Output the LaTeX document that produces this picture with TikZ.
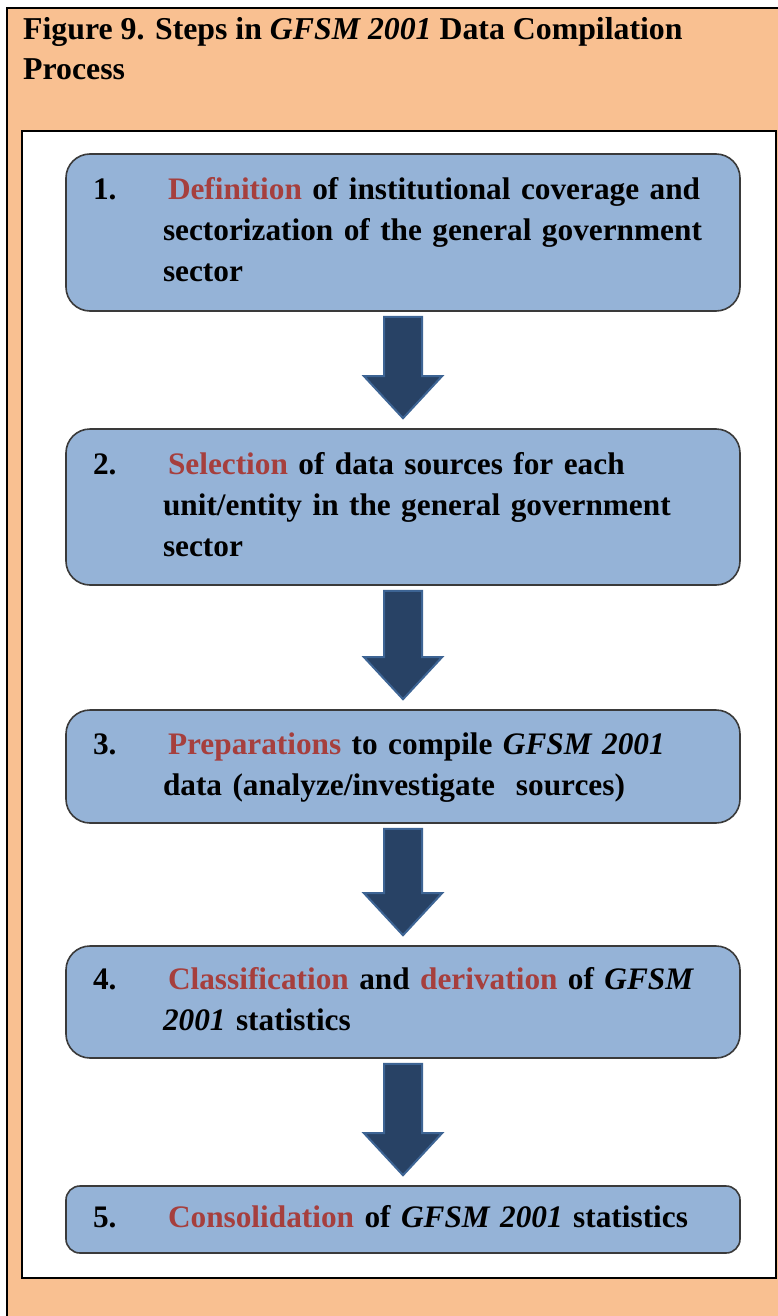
\documentclass[tikz,border=0pt]{standalone}
\usepackage{fontspec}
\setmainfont{Liberation Serif}
\usetikzlibrary{calc}
\definecolor{framefill}{HTML}{F9C091}
\definecolor{boxfill}{HTML}{95B3D7}
\definecolor{boxline}{HTML}{3A3A3A}
\definecolor{arrowfill}{HTML}{284265}
\definecolor{arrowline}{HTML}{3D6494}
\definecolor{keyred}{HTML}{A63F3D}
\newcommand{\keyword}[1]{\textcolor{keyred}{#1}}
\newcommand{\gfsm}{\textit{GFSM 2001}}
\newcommand{\flowarrow}[2]{%
  \draw [flowarrow] ($(#1.south)+(-19,5)$) -- ($(#2.north)+(-19,-52)$) -- ($(#2.north)+(-39,-52)$)
    -- ($(#2.north)+(0,-10)$) -- ($(#2.north)+(39,-52)$) -- ($(#2.north)+(19,-52)$) -- ($(#1.south)+(19,5)$) -- cycle;}

\begin{document}
\begin{tikzpicture}[x=1pt, y=-1pt,
    stepbox/.style={draw=boxline, line width=1.6pt, fill=boxfill, rounded corners=24pt,
      minimum width=674pt, text width=620pt, align=left, inner xsep=0pt, inner ysep=0pt,
      font=\fontsize{31.3}{41}\selectfont\bfseries},
    flowarrow/.style={draw=arrowline, line width=2pt, fill=arrowfill, line join=miter}]
    \useasboundingbox (0,0) rectangle (778,1316);
    \clip (0,0) rectangle (778,1316);
    \fill [white] (0,0) rectangle (778,1316);
    \draw [line width=2pt, fill=framefill] (7,8) rectangle (800,1340);
    \node [anchor=north west, align=left, inner sep=0pt, font=\fontsize{31.8}{40}\selectfont\bfseries] (title) at (23,17)
      {Figure 9. Steps in \gfsm{} Data Compilation\\Process};
    \draw [line width=2.5pt, fill=white] (22,131) rectangle (776,1278);

    \node [stepbox, minimum height=157pt] (define) at (403,232.5) {\begin{tabular}{@{}p{70pt}@{}l@{}}
      1. & \hspace{5pt}\keyword{Definition} of institutional coverage and\\
         & sectorization of the general government\\
         & sector\end{tabular}};
    \node [stepbox, minimum height=156pt] (select) at (403,507) {\begin{tabular}{@{}p{70pt}@{}l@{}}
      2. & \hspace{5pt}\keyword{Selection} of data sources for each\\
         & unit/entity in the general government\\
         & sector\end{tabular}};
    \node [stepbox, minimum height=113pt] (prepare) at (403,766.5) {\begin{tabular}{@{}p{70pt}@{}l@{}}
      3. & \hspace{5pt}\keyword{Preparations} to compile \gfsm\\
         & data (analyze/investigate\ \ sources)\end{tabular}};
    \node [stepbox, minimum height=112pt] (classify) at (403,1002) {\begin{tabular}{@{}p{70pt}@{}l@{}}
      4. & \hspace{5pt}\keyword{Classification} and \keyword{derivation} of \textit{GFSM}\\
         & \textit{2001} statistics\end{tabular}};
    \node [stepbox, minimum height=67pt, rounded corners=14pt] (consol) at (403,1219.5) {\begin{tabular}{@{}p{70pt}@{}l@{}}
      5. & \hspace{5pt}\keyword{Consolidation} of \gfsm{} statistics\end{tabular}};

    \flowarrow{define}{select}
    \flowarrow{select}{prepare}
    \flowarrow{prepare}{classify}
    \flowarrow{classify}{consol}
\end{tikzpicture}
\end{document}
